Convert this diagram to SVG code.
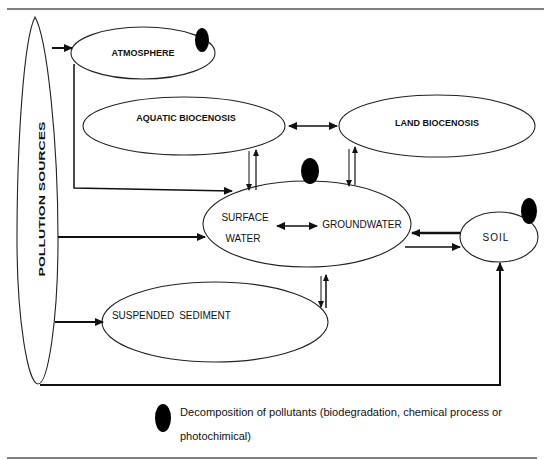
<svg xmlns="http://www.w3.org/2000/svg" width="544" height="459" viewBox="0 0 544 459">
<style>
.node{fill:#fff;stroke:#222;stroke-width:1.1}
.dot{fill:#000}
.lbl{font-family:"Liberation Sans",Arial,sans-serif;font-weight:bold;font-size:9px;fill:#111;text-anchor:middle}
.lbr{font-family:"Liberation Sans",Arial,sans-serif;font-size:10px;fill:#111;text-anchor:middle}
.leg{font-family:"Liberation Sans",Arial,sans-serif;font-size:11px;fill:#111}
.c{fill:none;stroke:#111}
.rule{stroke:#808080;stroke-width:2}
</style>
<defs>
<marker id="ah" markerUnits="userSpaceOnUse" markerWidth="9" markerHeight="8" refX="8" refY="4" orient="auto-start-reverse">
<path d="M0,0 L9,4 L0,8 z" fill="#111"/>
</marker>
<marker id="ahs" markerUnits="userSpaceOnUse" markerWidth="7" markerHeight="6" refX="6" refY="3" orient="auto-start-reverse">
<path d="M0,0 L7,3 L0,6 z" fill="#111"/>
</marker>
</defs>
<rect width="544" height="459" fill="#fff"/>
<line class="rule" x1="7" y1="9" x2="544" y2="9"/>
<line class="rule" x1="7" y1="458" x2="537" y2="458"/>

<g id="pollution-sources">
<path class="node" d="M35,17 C24,38 17,140 17,240 C17,320 28,384 38,384 C48,384 58,320 58,240 C58,140 47,38 35,17 Z"/>
<text class="lbl" font-size="14" x="0" y="0" transform="translate(45,199) rotate(-90)" textLength="155" lengthAdjust="spacingAndGlyphs">POLLUTION SOURCES</text>
</g>

<g id="atmosphere">
<ellipse class="node" cx="143" cy="53" rx="72" ry="26"/>
<text class="lbl" x="143" y="56">ATMOSPHERE</text>
<ellipse class="dot" cx="202" cy="40" rx="7" ry="12"/>
</g>

<g id="aquatic-biocenosis">
<ellipse class="node" cx="184" cy="126" rx="101" ry="29"/>
<text class="lbl" x="186" y="121">AQUATIC BIOCENOSIS</text>
</g>

<g id="land-biocenosis">
<ellipse class="node" cx="437" cy="126" rx="98" ry="31"/>
<text class="lbl" x="437" y="126">LAND BIOCENOSIS</text>
</g>

<g id="surface-groundwater">
<ellipse class="node" cx="307" cy="224" rx="104" ry="43"/>
<text class="lbr" x="245" y="221">SURFACE</text>
<text class="lbr" x="243" y="242">WATER</text>
<text class="lbr" x="362" y="228">GROUNDWATER</text>
<ellipse class="dot" cx="310" cy="171" rx="9" ry="13"/>
</g>

<g id="soil">
<ellipse class="node" cx="499" cy="237" rx="39" ry="25"/>
<text class="lbr" x="496" y="241" letter-spacing="1">SOIL</text>
<ellipse class="dot" cx="529" cy="211" rx="8" ry="13"/>
</g>

<g id="suspended-sediment">
<ellipse class="node" cx="215" cy="322" rx="113" ry="40"/>
<text class="lbr" x="143" y="319" text-anchor="start" font-size="9">SUSPENDED</text>
<text class="lbr" x="205" y="319" text-anchor="start">SEDIMENT</text>
</g>

<g id="connectors">
<line class="c" stroke-width="2" x1="52" y1="48" x2="72" y2="48" marker-end="url(#ah)"/>
<polyline class="c" stroke-width="1.5" points="74,64 74,188 232,191" marker-end="url(#ah)"/>
<line class="c" stroke-width="1.5" x1="289" y1="126" x2="337" y2="126" marker-start="url(#ah)" marker-end="url(#ah)"/>
<line class="c" stroke-width="1" x1="249" y1="151" x2="249" y2="190" marker-end="url(#ahs)"/>
<line class="c" stroke-width="1.2" x1="256" y1="190" x2="256" y2="150" marker-end="url(#ahs)"/>
<line class="c" stroke-width="1" x1="349" y1="149" x2="349" y2="186" marker-end="url(#ahs)"/>
<line class="c" stroke-width="1.2" x1="355" y1="185" x2="355" y2="147" marker-end="url(#ahs)"/>
<line class="c" stroke-width="2" x1="58" y1="237" x2="205" y2="237" marker-end="url(#ah)"/>
<line class="c" stroke-width="1.5" x1="277" y1="226" x2="317" y2="226" marker-start="url(#ah)" marker-end="url(#ah)"/>
<line class="c" stroke-width="2.5" x1="460" y1="233" x2="412" y2="233" marker-end="url(#ah)"/>
<line class="c" stroke-width="1.5" x1="405" y1="247" x2="460" y2="247" marker-end="url(#ah)"/>
<line class="c" stroke-width="1" x1="321" y1="276" x2="321" y2="307" marker-end="url(#ahs)"/>
<line class="c" stroke-width="1.5" x1="326" y1="308" x2="326" y2="275" marker-end="url(#ahs)"/>
<line class="c" stroke-width="2" x1="55" y1="322" x2="103" y2="322" marker-end="url(#ah)"/>
<polyline class="c" stroke-width="2" points="40,385 500,385 500,263" marker-end="url(#ah)"/>
</g>

<g id="legend">
<ellipse class="dot" cx="163" cy="418" rx="8" ry="14"/>
<text class="leg" x="180" y="416" textLength="322" lengthAdjust="spacingAndGlyphs">Decomposition of pollutants (biodegradation, chemical process or</text>
<text class="leg" x="180" y="440">photochimical)</text>
</g>
</svg>
